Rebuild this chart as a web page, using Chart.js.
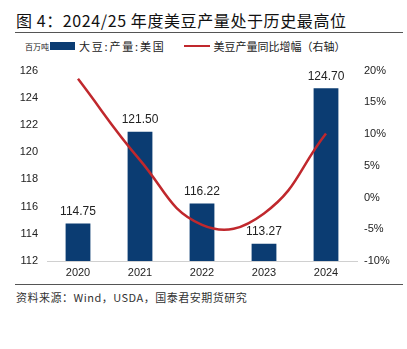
<!DOCTYPE html>
<html>
<head>
<meta charset="utf-8">
<script src="https://cdn.jsdelivr.net/npm/chart.js@4/dist/chart.umd.min.js"></script>
<style>
  html, body { margin: 0; padding: 0; background: #fff; }
  body { width: 407px; height: 349px; position: relative; overflow: hidden;
         font-family: "Noto Sans CJK SC", "DejaVu Sans", sans-serif; color: #222; }
  .title { position: absolute; left: 16px; top: 8px; font-size: 16px; font-weight: normal; letter-spacing: 0.6px; color: #111; }
  .rule { position: absolute; left: 15px; width: 388px; height: 1px; background: #555; }
  .legend { position: absolute; top: 38px; left: 25px; font-size: 11px; display: flex; align-items: center; white-space: nowrap; }
  .unit { font-size: 8px; margin-right: 1px; }
  .swatch { display: inline-block; width: 25px; height: 8px; background: #0B3C72; margin-right: 4px; }
  .lab1 { letter-spacing: 1.8px; }
  .dash { display: inline-block; width: 26px; height: 2.5px; background: #C0282D; margin: 0 4px 0 18px; }
  .source { position: absolute; left: 16px; top: 289px; font-size: 11px; color: #333; letter-spacing: 0.5px; }
  #wrap { position: absolute; left: 0; top: 55px; width: 407px; height: 227px; }
</style>
</head>
<body>
<div class="title">图 4：2024/25 年度美豆产量处于历史最高位</div>
<div class="rule" style="top:32px"></div>
<div class="legend">
  <span class="unit">百万吨</span><span class="swatch"></span><span class="lab1">大豆:产量:美国</span>
  <span class="dash"></span><span>美豆产量同比增幅（右轴）</span>
</div>
<div id="wrap"><canvas id="chart"></canvas></div>
<div class="rule" style="top:284px"></div>
<div class="source">资料来源：Wind，USDA，国泰君安期货研究</div>

<script>
// 数据
const years = ['2020', '2021', '2022', '2023', '2024'];
const production = [114.75, 121.50, 116.22, 113.27, 124.70];
const growthPct = [18.7, 5.9, -4.3, -2.5, 10.1];

// 柱顶数值标签
const barLabels = {
    id: 'barLabels',
    afterDatasetsDraw(chart) {
        const ctx = chart.ctx;
        const meta = chart.getDatasetMeta(1);
        ctx.save();
        ctx.font = '12px "Liberation Sans", Arial, sans-serif';
        ctx.fillStyle = '#222';
        ctx.textAlign = 'center';
        ctx.textBaseline = 'bottom';
        meta.data.forEach((bar, i) => {
            ctx.fillText(production[i].toFixed(2), bar.x, bar.y - 6);
        });
        ctx.restore();
    }
};

new Chart(document.getElementById('chart'), {
    data: {
        labels: years,
        datasets: [{
            type: 'line',
            label: '美豆产量同比增幅（右轴）',
            data: growthPct,
            yAxisID: 'y1',
            borderColor: '#C0282D',
            borderWidth: 2.5,
            pointRadius: 0,
            tension: 0.45,
            order: 0
        }, {
            type: 'bar',
            label: '大豆:产量:美国',
            data: production,
            yAxisID: 'y',
            backgroundColor: '#0B3C72',
            categoryPercentage: 1,
            barPercentage: 0.4,
            order: 1
        }]
    },
    options: {
        responsive: true,
        maintainAspectRatio: false,
        animation: false,
        layout: { padding: { top: 14, left: 0, right: 0, bottom: 0 } },
        plugins: {
            legend: { display: false },
            tooltip: { enabled: false }
        },
        scales: {
            x: {
                grid: { display: false, drawTicks: false },
                border: { color: '#d0d0d0' },
                ticks: { color: '#222', font: { family: '"Liberation Sans", Arial', size: 11 }, padding: 5 },
                afterFit(scale) { scale.height = 21; }
            },
            y: {
                position: 'left',
                min: 112, max: 126,
                grid: { display: false, drawTicks: false },
                border: { display: false },
                ticks: { stepSize: 2, color: '#222', padding: 9, font: { family: '"Liberation Sans", Arial', size: 11 } },
                afterFit(scale) { scale.width = 47; }
            },
            y1: {
                position: 'right',
                min: -10, max: 20,
                grid: { display: false, drawTicks: false },
                border: { display: false },
                ticks: {
                    stepSize: 5, color: '#222', padding: 7,
                    font: { family: '"Liberation Sans", Arial', size: 11 },
                    callback: v => v + '%'
                },
                afterFit(scale) { scale.width = 50; }
            }
        }
    },
    plugins: [barLabels]
});
</script>
</body>
</html>
